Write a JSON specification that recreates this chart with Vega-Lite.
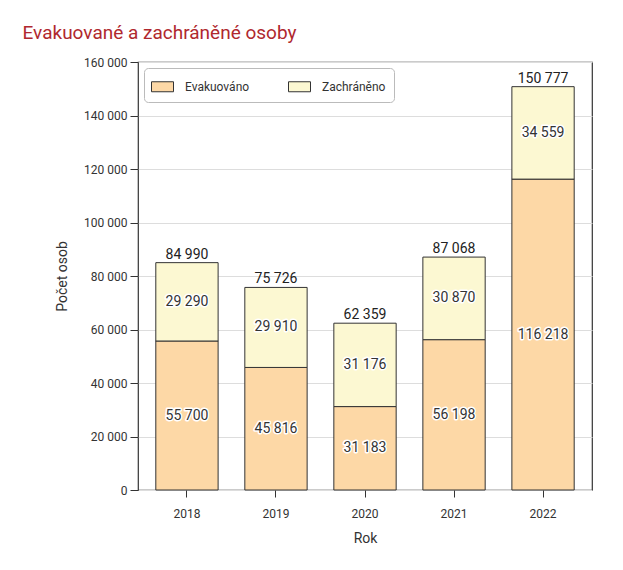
{
  "$schema": "https://vega.github.io/schema/vega-lite/v6.json",
  "width": 454,
  "height": 428,
  "padding": {"left": 22, "top": 24, "right": 30, "bottom": 20},
  "background": "white",
  "title": {
    "text": "Evakuované a zachráněné osoby",
    "anchor": "start",
    "frame": "bounds",
    "dx": -33,
    "fontSize": 19,
    "fontWeight": "normal",
    "color": "#B0282E",
    "font": "Roboto",
    "offset": 13
  },
  "data": {
    "values": [
      {"rok": "2018", "typ": "Evakuováno", "pocet": 55700, "poradi": 1},
      {"rok": "2018", "typ": "Zachráněno", "pocet": 29290, "poradi": 2},
      {"rok": "2019", "typ": "Evakuováno", "pocet": 45816, "poradi": 1},
      {"rok": "2019", "typ": "Zachráněno", "pocet": 29910, "poradi": 2},
      {"rok": "2020", "typ": "Evakuováno", "pocet": 31183, "poradi": 1},
      {"rok": "2020", "typ": "Zachráněno", "pocet": 31176, "poradi": 2},
      {"rok": "2021", "typ": "Evakuováno", "pocet": 56198, "poradi": 1},
      {"rok": "2021", "typ": "Zachráněno", "pocet": 30870, "poradi": 2},
      {"rok": "2022", "typ": "Evakuováno", "pocet": 116218, "poradi": 1},
      {"rok": "2022", "typ": "Zachráněno", "pocet": 34559, "poradi": 2}
    ]
  },
  "encoding": {
    "x": {
      "field": "rok",
      "type": "ordinal",
      "title": "Rok",
      "scale": {"paddingInner": 0.3, "paddingOuter": 0.2},
      "axis": {"labelAngle": 0, "tickSize": 7, "labelPadding": 11, "titlePadding": 12, "domain": false}
    }
  },
  "layer": [
    {
      "mark": {"type": "bar", "stroke": "#333333", "strokeWidth": 1},
      "encoding": {
        "y": {
          "field": "pocet",
          "type": "quantitative",
          "stack": "zero",
          "title": "Počet osob",
          "scale": {"domain": [0, 160000]},
          "axis": {"format": ",d", "values": [0, 20000, 40000, 60000, 80000, 100000, 120000, 140000, 160000], "tickSize": 8, "labelPadding": 3, "titlePadding": 14, "domain": false}
        },
        "color": {
          "field": "typ",
          "type": "nominal",
          "title": null,
          "scale": {"domain": ["Evakuováno", "Zachráněno"], "range": ["#FDD8A6", "#FCF8D2"]},
          "legend": {
            "orient": "top-left",
            "direction": "horizontal",
            "offset": 6,
            "padding": 8,
            "strokeColor": "#BBBBBB",
            "cornerRadius": 4,
            "fillColor": "white",
            "symbolType": "M-1.1,-0.5H1.1V0.5H-1.1Z",
            "symbolSize": 400,
            "symbolStrokeColor": "#333333",
            "symbolStrokeWidth": 1,
            "labelFontSize": 12,
            "labelOffset": 12,
            "columnPadding": 36
          }
        },
        "order": {"field": "poradi", "type": "quantitative"}
      }
    },
    {
      "transform": [
        {"stack": "pocet", "groupby": ["rok"], "sort": [{"field": "poradi"}], "as": ["y0", "y1"]},
        {"calculate": "(datum.y0 + datum.y1) / 2", "as": "stred"}
      ],
      "mark": {"type": "text", "fontSize": 14, "color": "#333333", "stroke": "white", "strokeWidth": 3, "strokeJoin": "round"},
      "encoding": {
        "y": {"field": "stred", "type": "quantitative"},
        "text": {"field": "pocet", "type": "quantitative", "format": ",d"}
      }
    },
    {
      "transform": [
        {"stack": "pocet", "groupby": ["rok"], "sort": [{"field": "poradi"}], "as": ["y0", "y1"]},
        {"calculate": "(datum.y0 + datum.y1) / 2", "as": "stred"}
      ],
      "mark": {"type": "text", "fontSize": 14, "color": "#333333"},
      "encoding": {
        "y": {"field": "stred", "type": "quantitative"},
        "text": {"field": "pocet", "type": "quantitative", "format": ",d"}
      }
    },
    {
      "transform": [
        {"aggregate": [{"op": "sum", "field": "pocet", "as": "celkem"}], "groupby": ["rok"]}
      ],
      "mark": {"type": "text", "fontSize": 14, "color": "#222222", "baseline": "bottom", "dy": -1},
      "encoding": {
        "y": {"field": "celkem", "type": "quantitative"},
        "text": {"field": "celkem", "type": "quantitative", "format": ",d"}
      }
    }
  ],
  "config": {
    "locale": {"number": {"decimal": ",", "thousands": " ", "grouping": [3], "currency": ["", " Kč"]}},
    "font": "Roboto",
    "view": {"stroke": "#333333", "strokeWidth": 1.2},
    "axis": {
      "labelFont": "Roboto",
      "titleFont": "Roboto",
      "labelFontSize": 12,
      "titleFontSize": 14,
      "titleFontWeight": "normal",
      "labelColor": "#333333",
      "titleColor": "#333333",
      "tickColor": "#333333",
      "gridColor": "#DDDDDD"
    },
    "axisX": {"grid": false},
    "legend": {"labelFont": "Roboto", "labelColor": "#333333"},
    "text": {"font": "Roboto"}
  }
}
